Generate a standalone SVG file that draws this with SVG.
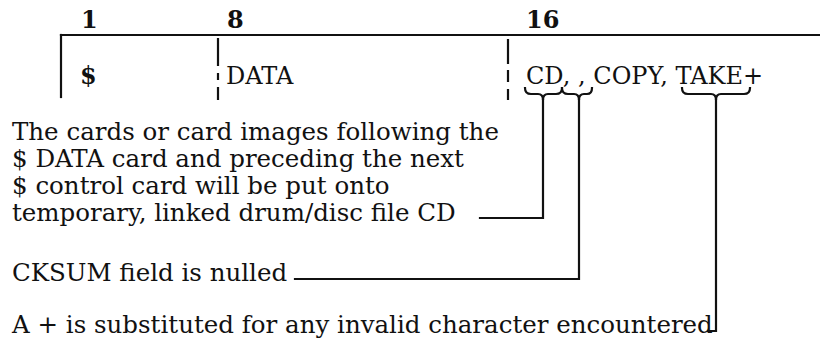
<svg xmlns="http://www.w3.org/2000/svg" width="820" height="340" viewBox="0 0 820 340">
  <style>
    .t { font-family: "DejaVu Serif", "Liberation Serif", serif; font-size: 24px; fill: #111; }
    .b { font-weight: bold; }
    .body { font-size: 24.5px; }
    .ln { stroke: #111; stroke-width: 2.2; fill: none; stroke-linecap: square; }
    .dash { stroke: #111; stroke-width: 2.2; fill: none; }
  </style>
  <rect width="820" height="340" fill="#fff"/>

  <g id="card-format">
    <text class="t b" x="81" y="28">1</text>
    <text class="t b" x="227" y="28">8</text>
    <text class="t b" x="526" y="28">16</text>
    <path class="ln" d="M61,35 H820"/>
    <path class="ln" d="M61,35 V97"/>
    <path class="dash" d="M218,38 V66 M218,73 V80 M218,87 V100"/>
    <path class="dash" d="M508,39 V64 M508,70 V82 M508,89 V100"/>
  </g>

  <g id="field-dollar">
    <text class="t b" x="80" y="84">$</text>
  </g>
  <g id="field-data">
    <text class="t" x="226" y="84">DATA</text>
  </g>
  <g id="field-operands">
    <text class="t" x="526" y="84">CD, , COPY, TAKE+</text>
  </g>

  <g id="note-cd">
    <text class="t body" x="12" y="140">The cards or card images following the</text>
    <text class="t body" x="12" y="167">$ DATA card and preceding the next</text>
    <text class="t body" x="12" y="194">$ control card will be put onto</text>
    <text class="t body" x="12" y="221">temporary, linked drum/disc file CD</text>
  </g>
  <g id="note-cksum">
    <text class="t body" x="12" y="281">CKSUM field is nulled</text>
  </g>
  <g id="note-take">
    <text class="t body" x="12" y="333">A + is substituted for any invalid character encountered</text>
  </g>

  <g id="connectors">
    <path class="ln" d="M525,88 Q525,94 531,94 H538 Q543,94 543,100 Q543,94 548,94 H556 Q562,94 562,88"/>
    <path class="ln" d="M562,88 Q562,94 568,94 H574 Q579,94 579,100 Q579,94 584,94 H587 Q592,94 592,88"/>
    <path class="ln" d="M682,88 Q682,94 688,94 H711 Q716,94 716,100 Q716,94 721,94 H744 Q750,94 750,88"/>
    <path class="ln" d="M543,100 V218 H480"/>
    <path class="ln" d="M579,100 V279 H295"/>
    <path class="ln" d="M716,100 V331 H708"/>
  </g>
</svg>
